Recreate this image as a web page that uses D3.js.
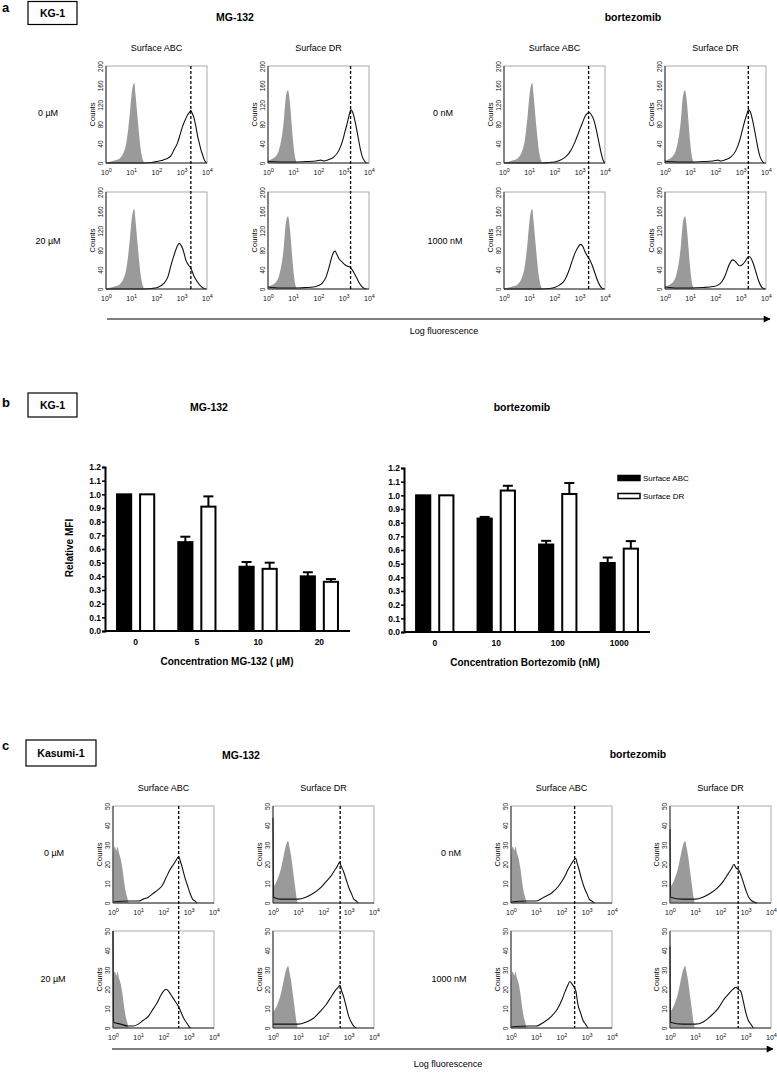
<!DOCTYPE html>
<html><head><meta charset="utf-8">
<script src="https://cdn.jsdelivr.net/npm/d3@7"></script>
<style>body{margin:0;background:#fff}svg{display:block;font-family:"Liberation Sans",Arial,Helvetica,sans-serif}</style>
</head><body><svg id="fig" width="777" height="1074"></svg>
<script>
// ---------------- DATA ----------------
// histogram axes
const decadeTicks = [0, 1, 2, 3, 4];          // log10 fluorescence: 10^0 .. 10^4
const kgCountTicks = [0, 40, 80, 120, 160, 200];
const kasCountTicks = [0, 10, 20, 30, 40, 50];
const columnTitles = ["Surface ABC", "Surface DR", "Surface ABC", "Surface DR"];
const mgRowLabels = ["0 \u00b5M", "20 \u00b5M"];
const bzRowLabels = ["0 nM", "1000 nM"];

// KG-1 histograms: [log10 fluorescence, counts]
const kgIsoABC = [[0,1],[0.2,3],[0.4,6],[0.55,10],[0.7,22],[0.8,40],[0.88,70],[0.95,105],[1.02,145],[1.08,162],[1.12,165],[1.17,140],[1.23,105],[1.3,65],[1.37,30],[1.44,10],[1.52,0]];
const kgIsoDR = [[0,10],[0.02,5],[0.15,8],[0.31,14],[0.42,24],[0.5,41],[0.57,62],[0.63,89],[0.71,137],[0.79,150],[0.87,123],[0.93,85],[1.0,41],[1.06,15],[1.12,3],[1.17,0]];
const kgMgABC0 = [[0,0],[1.5,0],[1.8,1],[2.0,3],[2.2,5],[2.3,7],[2.45,10],[2.56,14],[2.7,28],[2.83,41],[2.93,58],[3.03,75],[3.13,88],[3.23,99],[3.3,104],[3.36,108],[3.42,102],[3.49,92],[3.56,75],[3.63,55],[3.7,40],[3.76,27],[3.83,16],[3.89,7],[3.95,2],[4.0,0]];
const kgMgABC20 = [[0,0],[1.5,0],[1.8,1],[2.03,3],[2.3,12],[2.45,25],[2.56,46],[2.66,64],[2.76,80],[2.84,90],[2.9,94],[2.97,90],[3.03,84],[3.1,72],[3.16,60],[3.26,50],[3.36,43],[3.49,26],[3.63,14],[3.75,6],[3.85,2],[3.95,0]];
const kgMgDR0 = [[0,4],[0.05,3],[0.5,2],[1.0,2],[1.5,3],[1.9,4],[2.1,6],[2.2,4],[2.4,7],[2.6,12],[2.8,25],[2.95,45],[3.05,65],[3.15,85],[3.22,100],[3.28,110],[3.35,105],[3.43,90],[3.51,70],[3.58,50],[3.66,28],[3.74,12],[3.82,4],[3.9,0]];
const kgMgDR20 = [[0,4],[0.5,2],[1.0,2],[1.5,3],[1.8,4],[2.0,7],[2.15,12],[2.3,25],[2.42,45],[2.52,65],[2.6,76],[2.66,78],[2.72,72],[2.82,62],[2.95,55],[3.05,50],[3.15,47],[3.25,45],[3.33,40],[3.42,32],[3.52,22],[3.62,12],[3.72,5],[3.82,1],[3.9,0]];
const kgBzABC0 = [[0,0],[1.5,0],[1.8,1],[2.0,2],[2.2,5],[2.4,11],[2.6,22],[2.8,42],[2.95,62],[3.1,82],[3.2,95],[3.3,102],[3.38,104],[3.45,100],[3.55,90],[3.65,70],[3.75,45],[3.85,20],[3.93,5],[4.0,0]];
const kgBzABC1000 = [[0,0],[1.5,0],[1.8,1],[2.0,3],[2.2,8],[2.4,18],[2.55,35],[2.7,58],[2.82,75],[2.93,86],[3.03,92],[3.12,88],[3.2,78],[3.3,68],[3.4,60],[3.5,48],[3.6,33],[3.7,18],[3.8,7],[3.9,1],[3.97,0]];
const kgBzDR0 = [[0,4],[0.05,3],[0.5,2],[1.0,2],[1.5,3],[1.9,4],[2.1,6],[2.2,4],[2.4,7],[2.6,12],[2.8,25],[2.95,45],[3.05,65],[3.15,85],[3.24,100],[3.31,110],[3.38,105],[3.46,90],[3.54,70],[3.61,50],[3.69,28],[3.77,12],[3.85,4],[3.93,0]];
const kgBzDR1000 = [[0,4],[0.5,2],[1.0,2],[1.5,3],[1.9,5],[2.1,8],[2.25,15],[2.4,30],[2.5,45],[2.6,56],[2.68,60],[2.76,58],[2.86,52],[2.96,48],[3.06,50],[3.16,56],[3.25,63],[3.33,67],[3.4,64],[3.5,52],[3.6,35],[3.7,18],[3.8,6],[3.9,1],[3.96,0]];
const kgMedian = [3.36, 3.27, 3.35, 3.3];

// Kasumi-1 histograms
const kasIsoABC = [[0,24],[0.03,28],[0.08,29],[0.13,27],[0.18,29],[0.23,26],[0.3,23],[0.37,18],[0.44,11],[0.5,6],[0.56,3],[0.62,0]];
const kasIsoDR = [[0,8],[0.1,10],[0.2,13],[0.3,17],[0.4,23],[0.48,28],[0.55,31],[0.6,32],[0.65,29],[0.72,24],[0.8,16],[0.87,9],[0.93,3],[0.98,0]];
const kasMgABC0 = [[0,0.5],[0.62,1],[0.8,1],[1.0,1],[1.2,2],[1.4,3],[1.6,5],[1.8,7],[1.95,9],[2.1,13],[2.25,17],[2.4,20],[2.5,22],[2.6,24],[2.68,21],[2.75,18],[2.85,13],[2.95,9],[3.05,5],[3.15,2],[3.25,1],[3.33,0]];
const kasMgABC20 = [[0,50],[0.02,3],[0.3,2],[0.6,1],[0.8,1],[1.0,2],[1.2,4],[1.4,6],[1.6,10],[1.75,13],[1.9,17],[2.0,19],[2.1,20],[2.2,19],[2.3,17],[2.4,15],[2.5,13],[2.6,11],[2.7,8],[2.8,5],[2.9,3],[3.0,1],[3.07,0]];
const kasMgDR0 = [[0,44],[0.02,3],[0.3,2],[0.6,2],[1.0,2],[1.3,3],[1.6,5],[1.9,8],[2.1,11],[2.3,14],[2.45,17],[2.55,19],[2.63,21],[2.7,19],[2.8,16],[2.9,12],[3.0,8],[3.1,5],[3.2,2],[3.3,1],[3.38,0]];
const kasMgDR20 = [[0,2],[0.3,2],[0.6,2],[1.0,2],[1.3,3],[1.6,5],[1.9,9],[2.1,12],[2.3,16],[2.45,19],[2.58,21],[2.65,22],[2.72,19],[2.8,16],[2.9,11],[3.0,6],[3.1,3],[3.2,1],[3.3,0]];
const kasBzABC0 = [[0,0.5],[0.6,1],[1.0,1],[1.3,3],[1.6,5],[1.9,9],[2.1,13],[2.25,17],[2.38,20],[2.48,22],[2.56,23],[2.63,20],[2.7,17],[2.8,12],[2.9,8],[3.0,5],[3.1,2],[3.2,1],[3.3,0]];
const kasBzABC1000 = [[0,0.5],[0.7,1],[1.0,1],[1.3,3],[1.6,6],[1.85,10],[2.0,14],[2.15,19],[2.25,22],[2.33,24],[2.4,23],[2.5,21],[2.57,19],[2.65,12],[2.75,8],[2.85,4],[2.95,2],[3.05,0]];
const kasBzDR0 = [[0,38],[0.02,3],[0.5,2],[1.0,2],[1.3,3],[1.6,5],[1.9,8],[2.1,11],[2.3,15],[2.45,18],[2.53,20],[2.62,18],[2.72,17],[2.82,14],[2.92,10],[3.02,6],[3.12,3],[3.25,1],[3.45,0]];
const kasBzDR1000 = [[0,42],[0.02,3],[0.5,2],[1.0,2],[1.3,3],[1.6,6],[1.9,10],[2.15,15],[2.35,18],[2.5,20],[2.6,21],[2.7,20],[2.8,19],[2.9,14],[3.0,8],[3.1,4],[3.2,2],[3.3,0]];
const kasMedian = [2.6, 2.66, 2.52, 2.7];

// Panel b: relative MFI
const mgConc = ["0", "5", "10", "20"];
const mgABC = [1.00, 0.65, 0.47, 0.40];
const mgABCerr = [0, 0.04, 0.035, 0.03];
const mgDR = [1.00, 0.91, 0.455, 0.36];
const mgDRerr = [0, 0.075, 0.045, 0.02];
const bzConc = ["0", "10", "100", "1000"];
const bzABC = [1.00, 0.83, 0.64, 0.505];
const bzABCerr = [0, 0.012, 0.027, 0.04];
const bzDR = [1.00, 1.035, 1.01, 0.61];
const bzDRerr = [0, 0.035, 0.08, 0.055];
const mfiTicks = [0, 0.1, 0.2, 0.3, 0.4, 0.5, 0.6, 0.7, 0.8, 0.9, 1.0, 1.1, 1.2];
const seriesNames = ["Surface ABC", "Surface DR"];

// ---------------- DRAWING ----------------
const svg = d3.select("#fig");
const FONT = '"Liberation Sans",Arial,sans-serif';

function txt(x, y, s, size, opts = {}) {
  return svg.append("text").attr("x", x).attr("y", y).text(s)
    .attr("font-size", size).attr("font-weight", opts.bold ? "bold" : "normal")
    .attr("text-anchor", opts.anchor || "middle").attr("fill", "#000");
}

// arrowhead marker
svg.append("defs").append("marker").attr("id", "arr").attr("viewBox", "0 0 10 10")
  .attr("refX", 9).attr("refY", 5).attr("markerWidth", 9).attr("markerHeight", 7)
  .attr("markerUnits", "userSpaceOnUse").attr("orient", "auto")
  .append("path").attr("d", "M0,0L10,5L0,10Z").attr("fill", "#000");

function hist(box, ymax, yticks, iso, sample) {
  const g = svg.append("g");
  const x = d3.scaleLinear().domain([0, 4]).range([box.x, box.x + box.w]);
  const y = d3.scaleLinear().domain([0, ymax]).range([box.y + box.h, box.y]);
  g.append("rect").attr("x", box.x).attr("y", box.y).attr("width", box.w).attr("height", box.h)
    .attr("fill", "#fff").attr("stroke", "#aaa").attr("stroke-width", 1);
  g.append("path").datum(iso)
    .attr("d", d3.area().x(d => x(d[0])).y0(y(0)).y1(d => y(d[1])).curve(d3.curveMonotoneX))
    .attr("fill", "#9a9a9a");
  g.append("path").datum(sample)
    .attr("d", d3.line().x(d => x(d[0])).y(d => y(d[1])).curve(d3.curveMonotoneX))
    .attr("fill", "none").attr("stroke", "#111").attr("stroke-width", 1.1);
  // axes lines
  g.append("line").attr("x1", box.x).attr("x2", box.x).attr("y1", box.y).attr("y2", box.y + box.h).attr("stroke", "#333");
  g.append("line").attr("x1", box.x).attr("x2", box.x + box.w).attr("y1", box.y + box.h).attr("y2", box.y + box.h).attr("stroke", "#333");
  const ax = g.append("g").attr("transform", `translate(0,${box.y + box.h})`)
    .call(d3.axisBottom(x).tickValues(decadeTicks).tickSize(0).tickPadding(7));
  ax.select(".domain").remove();
  ax.selectAll(".tick text").attr("font-size", 7).attr("font-family", FONT).attr("fill", "#111")
    .each(function (d) {
      const t = d3.select(this); t.text("10");
      t.append("tspan").attr("dy", "-0.5em").attr("font-size", 5.5).text(d);
    });
  const ay = g.append("g").attr("transform", `translate(${box.x},0)`)
    .call(d3.axisLeft(y).tickValues(yticks).tickSize(0));
  ay.select(".domain").remove();
  ay.selectAll(".tick text").attr("font-size", 6.5).attr("font-family", FONT).attr("fill", "#111")
    .attr("transform", "rotate(-90)").attr("x", 0).attr("y", -3).attr("dy", 0).attr("text-anchor", "middle");
  g.append("text").attr("transform", `translate(${box.x - 11},${box.y + box.h / 2}) rotate(-90)`)
    .attr("text-anchor", "middle").attr("font-size", 7.5).text("Counts");
  return x;
}

function histBlock(cols, rows, ymax, yticks, isos, samples, medians, titleY) {
  cols.forEach((cx, ci) => {
    const w = 101, h = 97;
    let xs;
    rows.forEach((ry, ri) => {
      xs = hist({ x: cx, y: ry, w, h }, ymax, yticks, isos[ci], samples[ci][ri]);
    });
    svg.append("line").attr("x1", xs(medians[ci])).attr("x2", xs(medians[ci]))
      .attr("y1", rows[0]).attr("y2", rows[1] + h)
      .attr("stroke", "#000").attr("stroke-width", 1.3).attr("stroke-dasharray", "3,2");
    txt(cx + w / 2, titleY, columnTitles[ci], 9);
  });
}

// ---------- Panel a ----------
txt(2, 12, "a", 13, { bold: true, anchor: "start" });
svg.append("rect").attr("x", 28).attr("y", 1.5).attr("width", 49).attr("height", 23).attr("fill", "none").attr("stroke", "#000").attr("stroke-width", 1.2);
txt(52.5, 17, "KG-1", 10.5, { bold: true });
txt(235, 21, "MG-132", 10.5, { bold: true });
txt(633, 21, "bortezomib", 10.5, { bold: true });
const kgRows = [66, 192];
histBlock([106, 268, 504, 665], kgRows, 200, kgCountTicks,
  [kgIsoABC, kgIsoDR, kgIsoABC, kgIsoDR],
  [[kgMgABC0, kgMgABC20], [kgMgDR0, kgMgDR20], [kgBzABC0, kgBzABC1000], [kgBzDR0, kgBzDR1000]],
  kgMedian, 51);
txt(48, 116, mgRowLabels[0], 9); txt(48, 244, mgRowLabels[1], 9);
txt(443, 116, bzRowLabels[0], 9); txt(445, 244, bzRowLabels[1], 9);
svg.append("line").attr("x1", 107).attr("x2", 770).attr("y1", 319).attr("y2", 319)
  .attr("stroke", "#000").attr("stroke-width", 1.2).attr("marker-end", "url(#arr)");
txt(444, 334, "Log fluorescence", 9);

// ---------- Panel b ----------
txt(2, 407, "b", 13, { bold: true, anchor: "start" });
svg.append("rect").attr("x", 28).attr("y", 393).attr("width", 49).attr("height", 24).attr("fill", "none").attr("stroke", "#000").attr("stroke-width", 1.2);
txt(52.5, 409, "KG-1", 10.5, { bold: true });
txt(209, 411, "MG-132", 10.5, { bold: true });
txt(522, 411, "bortezomib", 10.5, { bold: true });

function barChart(left, right, top, bottom, cats, abc, abcErr, dr, drErr, xTitle, xTitleX) {
  const g = svg.append("g");
  const x0 = d3.scaleBand().domain(cats).range([left, right]).paddingInner(0.36).paddingOuter(0.18);
  const x1 = d3.scaleBand().domain(seriesNames).range([0, x0.bandwidth()]).paddingInner(0.3);
  const y = d3.scaleLinear().domain([0, 1.2]).range([bottom, top]);
  const rows = cats.map((c, i) => [
    { c, s: seriesNames[0], v: abc[i], e: abcErr[i] },
    { c, s: seriesNames[1], v: dr[i], e: drErr[i] }]).flat();
  const eb = g.selectAll(".eb").data(rows.filter(d => d.e > 0)).join("g");
  eb.append("line").attr("x1", d => x0(d.c) + x1(d.s) + x1.bandwidth() / 2).attr("x2", d => x0(d.c) + x1(d.s) + x1.bandwidth() / 2)
    .attr("y1", d => y(d.v)).attr("y2", d => y(d.v + d.e)).attr("stroke", "#000").attr("stroke-width", 2);
  eb.append("line").attr("x1", d => x0(d.c) + x1(d.s) + x1.bandwidth() / 2 - 5).attr("x2", d => x0(d.c) + x1(d.s) + x1.bandwidth() / 2 + 5)
    .attr("y1", d => y(d.v + d.e)).attr("y2", d => y(d.v + d.e)).attr("stroke", "#000").attr("stroke-width", 2);
  g.selectAll(".bar").data(rows).join("rect")
    .attr("x", d => x0(d.c) + x1(d.s) + 1).attr("width", x1.bandwidth() - 2)
    .attr("y", d => y(d.v)).attr("height", d => y(0) - y(d.v))
    .attr("fill", d => d.s === seriesNames[0] ? "#000" : "#fff").attr("stroke", "#000").attr("stroke-width", 2);
  const ay = g.append("g").attr("transform", `translate(${left},0)`)
    .call(d3.axisLeft(y).tickValues(mfiTicks).tickFormat(d3.format(".1f")).tickSize(3).tickPadding(1));
  ay.select(".domain").attr("stroke-width", 2);
  ay.selectAll(".tick line").attr("stroke-width", 1.5);
  ay.selectAll(".tick text").attr("font-size", 8.5).attr("font-weight", "bold").attr("font-family", FONT).attr("fill", "#000");
  const axb = g.append("g").attr("transform", `translate(0,${bottom})`)
    .call(d3.axisBottom(x0).tickSize(0).tickPadding(8));
  axb.select(".domain").attr("stroke-width", 2).attr("d", `M${left},0H${right}`);
  axb.selectAll(".tick text").attr("font-size", 8.5).attr("font-weight", "bold").attr("font-family", FONT).attr("fill", "#000");
  txt(xTitleX, bottom + 34, xTitle, 10, { bold: true });
}
barChart(105, 350, 467, 631, mgConc, mgABC, mgABCerr, mgDR, mgDRerr, "Concentration MG-132 ( \u00b5M)", 227);
barChart(404, 650, 468, 632, bzConc, bzABC, bzABCerr, bzDR, bzDRerr, "Concentration Bortezomib (nM)", 525);
svg.append("text").attr("transform", "translate(73,548) rotate(-90)").attr("text-anchor", "middle")
  .attr("font-size", 10).attr("font-weight", "bold").text("Relative MFI");
const lg = svg.append("g");
seriesNames.forEach((s, i) => {
  const yy = 478 + i * 18;
  lg.append("rect").attr("x", 618).attr("y", yy - 2.5).attr("width", 22).attr("height", 5)
    .attr("fill", i === 0 ? "#000" : "#fff").attr("stroke", "#000").attr("stroke-width", 1.5);
  lg.append("text").attr("x", 643).attr("y", yy + 3).attr("font-size", 8).text(s);
});

// ---------- Panel c ----------
txt(2, 750, "c", 13, { bold: true, anchor: "start" });
svg.append("rect").attr("x", 26).attr("y", 740).attr("width", 70).attr("height", 26).attr("fill", "none").attr("stroke", "#000").attr("stroke-width", 1.2);
txt(61, 757, "Kasumi-1", 10.5, { bold: true });
txt(241, 759, "MG-132", 10.5, { bold: true });
txt(638, 758, "bortezomib", 10.5, { bold: true });
const kasRows = [806, 931];
histBlock([113, 273, 511, 670], kasRows, 50, kasCountTicks,
  [kasIsoABC, kasIsoDR, kasIsoABC, kasIsoDR],
  [[kasMgABC0, kasMgABC20], [kasMgDR0, kasMgDR20], [kasBzABC0, kasBzABC1000], [kasBzDR0, kasBzDR1000]],
  kasMedian, 791);
txt(54, 856, mgRowLabels[0], 9); txt(53, 982, mgRowLabels[1], 9);
txt(451, 856, bzRowLabels[0], 9); txt(449, 982, bzRowLabels[1], 9);
svg.append("line").attr("x1", 112).attr("x2", 773).attr("y1", 1049).attr("y2", 1049)
  .attr("stroke", "#000").attr("stroke-width", 1.2).attr("marker-end", "url(#arr)");
txt(448, 1067, "Log fluorescence", 9);
</script></body></html>
